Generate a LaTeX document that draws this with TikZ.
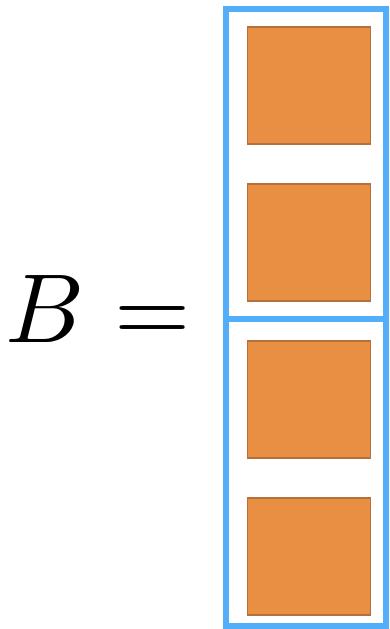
\documentclass[tikz,border=0pt]{standalone}
\begin{document}
\begin{tikzpicture}[x=1pt,y=-1pt,
  blk/.style={draw=blueline,line width=6pt},
  sq/.style={fill=orangefill,draw=orangeedge,line width=1.2pt},
  big/.style={anchor=base west,inner sep=0pt,scale=9.8}]
\definecolor{blueline}{RGB}{82,174,248}
\definecolor{orangefill}{RGB}{232,143,67}
\definecolor{orangeedge}{RGB}{184,112,58}
\useasboundingbox (0,0) rectangle (389,629);
\draw[sq] (247.5,27) rectangle (370.5,144) node[pos=0.5] (s1) {};
\draw[sq] (247.5,184) rectangle (370.5,301) node[pos=0.5] (s2) {};
\draw[sq] (247.5,341) rectangle (370.5,458) node[pos=0.5] (s3) {};
\draw[sq] (247.5,498) rectangle (370.5,615) node[pos=0.5] (s4) {};
\draw[blk] (226,9) rectangle (386,319);
\draw[blk] (226,319) rectangle (386,626);
\node[big] (bb) at (4,342) {$B$};
\node[big] (eq) at (113,342) {$=$};
\end{tikzpicture}
\end{document}
